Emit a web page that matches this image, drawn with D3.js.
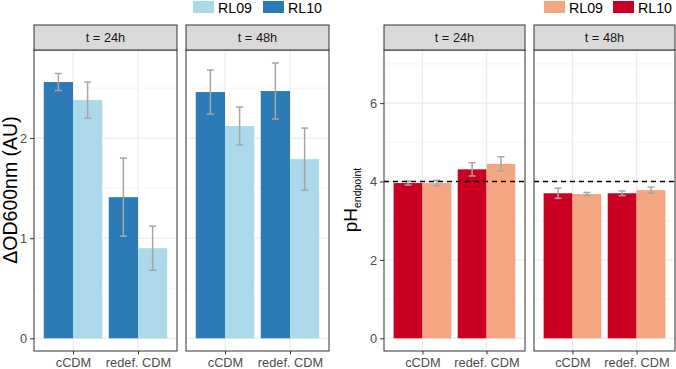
<!DOCTYPE html>
<html>
<head>
<meta charset="utf-8">
<script src="https://cdn.jsdelivr.net/npm/d3@7"></script>
<style>
  body { margin: 0; background: #fff; }
  svg { display: block; font-family: "Liberation Sans", Arial, sans-serif; }
</style>
</head>
<body>
<svg id="chart" width="676" height="369"></svg>
<script>
// ---------------- data ----------------
const categories = ["cCDM", "redef. CDM"];
const timepoints = ["t = 24h", "t = 48h"];
const strains = ["RL10", "RL09"];

// ΔOD600nm (AU): [timepoint][category]
const odRL10 = [[2.56, 1.41], [2.46, 2.47]];
const odRL10Err = [[0.085, 0.39], [0.22, 0.28]];
const odRL09 = [[2.38, 0.90], [2.12, 1.79]];
const odRL09Err = [[0.18, 0.22], [0.19, 0.31]];

// pH endpoint
const phRL10 = [[3.96, 4.31], [3.70, 3.70]];
const phRL10Err = [[0.05, 0.17], [0.13, 0.06]];
const phRL09 = [[3.96, 4.45], [3.68, 3.78]];
const phRL09Err = [[0.07, 0.18], [0.04, 0.08]];
const phReference = 4;

const odTicks = [0, 1, 2];
const odMinor = [0.5, 1.5, 2.5];
const phTicks = [0, 2, 4, 6];
const phMinor = [1, 3, 5, 7];

// ---------------- styles ----------------
const blueColors = { RL10: "#2c7bb6", RL09: "#abd9e9" };
const redColors = { RL10: "#ca0020", RL09: "#f4a582" };

const svg = d3.select("#chart");
const PANEL_TOP = 50, PANEL_BOTTOM = 351, STRIP_TOP = 25;

function drawChart(cfg) {
  const g = svg.append("g");
  const y = d3.scaleLinear().domain(cfg.yDomain).range([PANEL_BOTTOM, PANEL_TOP]);

  cfg.panels.forEach((p, ti) => {
    const x = d3.scalePoint().domain(categories).range([p[0], p[1]]).padding(0.6);
    const step = x.step();
    const barW = step * 0.45;
    const pg = g.append("g");

    pg.append("rect").attr("x", p[0]).attr("y", PANEL_TOP).attr("width", p[1] - p[0])
      .attr("height", PANEL_BOTTOM - PANEL_TOP).attr("fill", "#fff");
    pg.selectAll(".ming").data(cfg.minor).join("line")
      .attr("x1", p[0]).attr("x2", p[1])
      .attr("y1", d => y(d)).attr("y2", d => y(d))
      .attr("stroke", "#f0f0f0").attr("stroke-width", 0.7);
    pg.selectAll(".majg").data(cfg.ticks).join("line")
      .attr("x1", p[0]).attr("x2", p[1])
      .attr("y1", d => y(d)).attr("y2", d => y(d))
      .attr("stroke", "#ebebeb").attr("stroke-width", 1.2);
    pg.selectAll(".majx").data(categories).join("line")
      .attr("x1", d => x(d)).attr("x2", d => x(d))
      .attr("y1", PANEL_TOP).attr("y2", PANEL_BOTTOM)
      .attr("stroke", "#ebebeb").attr("stroke-width", 1.2);

    const rows = [];
    categories.forEach((c, ci) => {
      strains.forEach((s, si) => {
        rows.push({ c, s, si, v: cfg.values[s][ti][ci], e: cfg.errors[s][ti][ci] });
      });
    });
    pg.selectAll(".bar").data(rows).join("rect")
      .attr("x", d => x(d.c) - barW + d.si * barW)
      .attr("width", barW)
      .attr("y", d => y(d.v))
      .attr("height", d => y(0) - y(d.v))
      .attr("fill", d => cfg.colors[d.s]);

    const capW = 3.5;
    const cx = d => x(d.c) - barW / 2 + d.si * barW;
    const eg = pg.selectAll(".err").data(rows).join("g")
      .attr("stroke", "#a6a6a6").attr("stroke-width", 1.5).attr("fill", "none");
    eg.append("line").attr("x1", cx).attr("x2", cx)
      .attr("y1", d => y(d.v + d.e)).attr("y2", d => y(d.v - d.e));
    eg.append("line").attr("x1", d => cx(d) - capW).attr("x2", d => cx(d) + capW)
      .attr("y1", d => y(d.v + d.e)).attr("y2", d => y(d.v + d.e));
    eg.append("line").attr("x1", d => cx(d) - capW).attr("x2", d => cx(d) + capW)
      .attr("y1", d => y(d.v - d.e)).attr("y2", d => y(d.v - d.e));

    if (cfg.refLine !== undefined) {
      pg.append("line")
        .attr("x1", p[0]).attr("x2", p[1])
        .attr("y1", y(cfg.refLine)).attr("y2", y(cfg.refLine))
        .attr("stroke", "#000").attr("stroke-width", 1.4)
        .attr("stroke-dasharray", "5,4");
    }

    pg.append("rect").attr("x", p[0]).attr("y", PANEL_TOP).attr("width", p[1] - p[0])
      .attr("height", PANEL_BOTTOM - PANEL_TOP)
      .attr("fill", "none").attr("stroke", "#333").attr("stroke-width", 1);

    pg.append("rect").attr("x", p[0]).attr("y", STRIP_TOP).attr("width", p[1] - p[0])
      .attr("height", PANEL_TOP - STRIP_TOP)
      .attr("fill", "#d9d9d9").attr("stroke", "#333").attr("stroke-width", 1);
    pg.append("text").attr("x", (p[0] + p[1]) / 2).attr("y", (STRIP_TOP + PANEL_TOP) / 2)
      .attr("text-anchor", "middle").attr("dominant-baseline", "central")
      .attr("font-size", 12.8).attr("fill", "#1a1a1a").text(timepoints[ti]);

    const xa = pg.append("g").attr("transform", `translate(0,${PANEL_BOTTOM})`)
      .call(d3.axisBottom(x).tickSize(3.5).tickPadding(3));
    xa.select(".domain").remove();
    xa.selectAll(".tick line").attr("stroke", "#333");
    xa.selectAll(".tick text").attr("font-size", 12.8).attr("fill", "#4d4d4d")
      .attr("font-family", "Liberation Sans, Arial, sans-serif");

    if (ti === 0) {
      const ya = pg.append("g").attr("transform", `translate(${p[0]},0)`)
        .call(d3.axisLeft(y).tickValues(cfg.ticks).tickFormat(d3.format("d")).tickSize(4).tickPadding(3));
      ya.select(".domain").remove();
      ya.selectAll(".tick line").attr("stroke", "#333");
      ya.selectAll(".tick text").attr("font-size", 12.8).attr("fill", "#4d4d4d")
        .attr("font-family", "Liberation Sans, Arial, sans-serif");
    }
  });

  const lg = g.append("g");
  cfg.legend.forEach(l => {
    lg.append("rect").attr("x", l.x).attr("y", 1).attr("width", 21).attr("height", 12)
      .attr("fill", cfg.colors[l.s]);
    lg.append("text").attr("x", l.x + 25).attr("y", 12.5)
      .attr("font-size", 14.2).attr("fill", "#000").text(l.s);
  });
}

drawChart({
  panels: [[34, 177], [186, 329]],
  yDomain: [-0.127, 2.88],
  ticks: odTicks, minor: odMinor,
  values: { RL10: odRL10, RL09: odRL09 },
  errors: { RL10: odRL10Err, RL09: odRL09Err },
  colors: blueColors,
  legend: [{ s: "RL09", x: 193 }, { s: "RL10", x: 263 }]
});

drawChart({
  panels: [[384, 525], [534, 675]],
  yDomain: [-0.324, 7.355],
  ticks: phTicks, minor: phMinor,
  values: { RL10: phRL10, RL09: phRL09 },
  errors: { RL10: phRL10Err, RL09: phRL09Err },
  colors: redColors,
  refLine: phReference,
  legend: [{ s: "RL09", x: 544 }, { s: "RL10", x: 613 }]
});

svg.append("text")
  .attr("transform", "translate(17,190) rotate(-90)")
  .attr("text-anchor", "middle")
  .attr("font-size", 19.5).attr("fill", "#000")
  .text("ΔOD600nm (AU)");

const ph = svg.append("text")
  .attr("transform", "translate(357,200) rotate(-90)")
  .attr("text-anchor", "middle")
  .attr("fill", "#000");
ph.append("tspan").attr("font-size", 19).text("pH");
ph.append("tspan").attr("font-size", 10.5).attr("dy", 4).text("endpoint");
</script>
</body>
</html>
